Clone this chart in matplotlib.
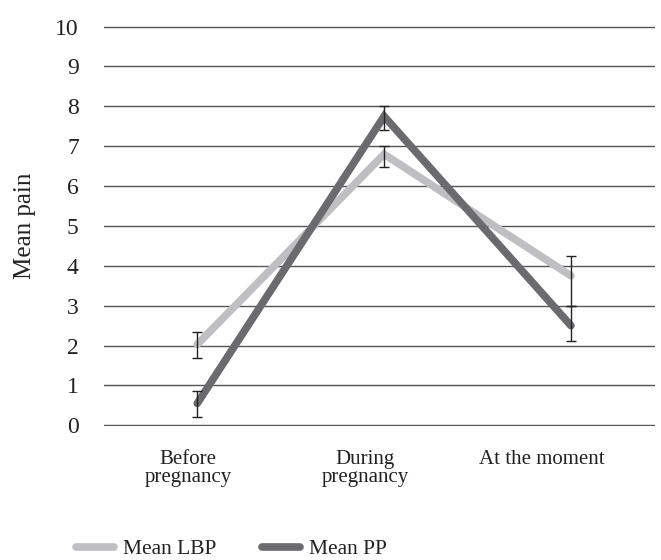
#mean pain before / during / after pregnancy, LBP vs PP line chart
import numpy as np
from matplotlib import pyplot as plt
from matplotlib import transforms

categories = ['Before\npregnancy', 'During\npregnancy', 'At the moment']
lbp_mean = [2.03, 6.8, 3.75]
lbp_err_low = [0.35, 0.32, 0.75]
lbp_err_high = [0.3, 0.2, 0.5]
pp_mean = [0.55, 7.75, 2.5]
pp_err_low = [0.35, 0.35, 0.38]
pp_err_high = [0.3, 0.25, 0.5]

plt.rcParams['font.family'] = ['Liberation Serif', 'DejaVu Serif']

fig = plt.figure(figsize=[6.61, 5.6], dpi=100)
ax = fig.add_axes([0.157, 0.239, 0.834, 0.715])

x = np.arange(len(categories))
ax.plot(x, lbp_mean, color='#bfbfc1', lw=5.5, solid_capstyle='round',
        solid_joinstyle='miter', label='Mean LBP', zorder=3)
ax.plot(x, pp_mean, color='#6b6b6e', lw=5.5, solid_capstyle='round',
        solid_joinstyle='miter', label='Mean PP', zorder=4)
ax.errorbar(x, lbp_mean, yerr=[lbp_err_low, lbp_err_high], fmt='none',
            ecolor='#222222', elinewidth=1, capsize=3.6, capthick=1, zorder=5)
ax.errorbar(x, pp_mean, yerr=[pp_err_low, pp_err_high], fmt='none',
            ecolor='#222222', elinewidth=1, capsize=3.6, capthick=1, zorder=5)

ax.set_xlim(-0.5, 2.45)
ax.set_ylim(-0.02, 10.02)
ax.set_yticks(range(0, 11))
ax.set_xticks(x)
ax.set_xticklabels(categories, fontsize=15, linespacing=0.98)
ax.tick_params(axis='y', length=0, pad=18, labelsize=17, colors='#222222')
ax.tick_params(axis='x', length=0, pad=17, colors='#222222')
ax.yaxis.grid(True, color='#555555', lw=1)
ax.set_axisbelow(True)
for s in ax.spines.values():
    s.set_visible(False)
ax.set_ylabel('Mean pain', fontsize=18, color='#222222', labelpad=14)

# category labels sit a bit left of the data points in the original
for i, lab in enumerate(ax.get_xticklabels()):
    shift = transforms.ScaledTranslation(-(9 + 10 * i) / 100, 0, fig.dpi_scale_trans)
    lab.set_transform(lab.get_transform() + shift)

leg = fig.legend(loc='lower left', bbox_to_anchor=(0.085, -0.033), ncol=2,
                 frameon=False, fontsize=15.5, handlelength=1.8, handletextpad=0.4,
                 columnspacing=2.1)
for t in leg.get_texts():
    t.set_color('#222222')

fig.savefig('out.png', dpi=100)
